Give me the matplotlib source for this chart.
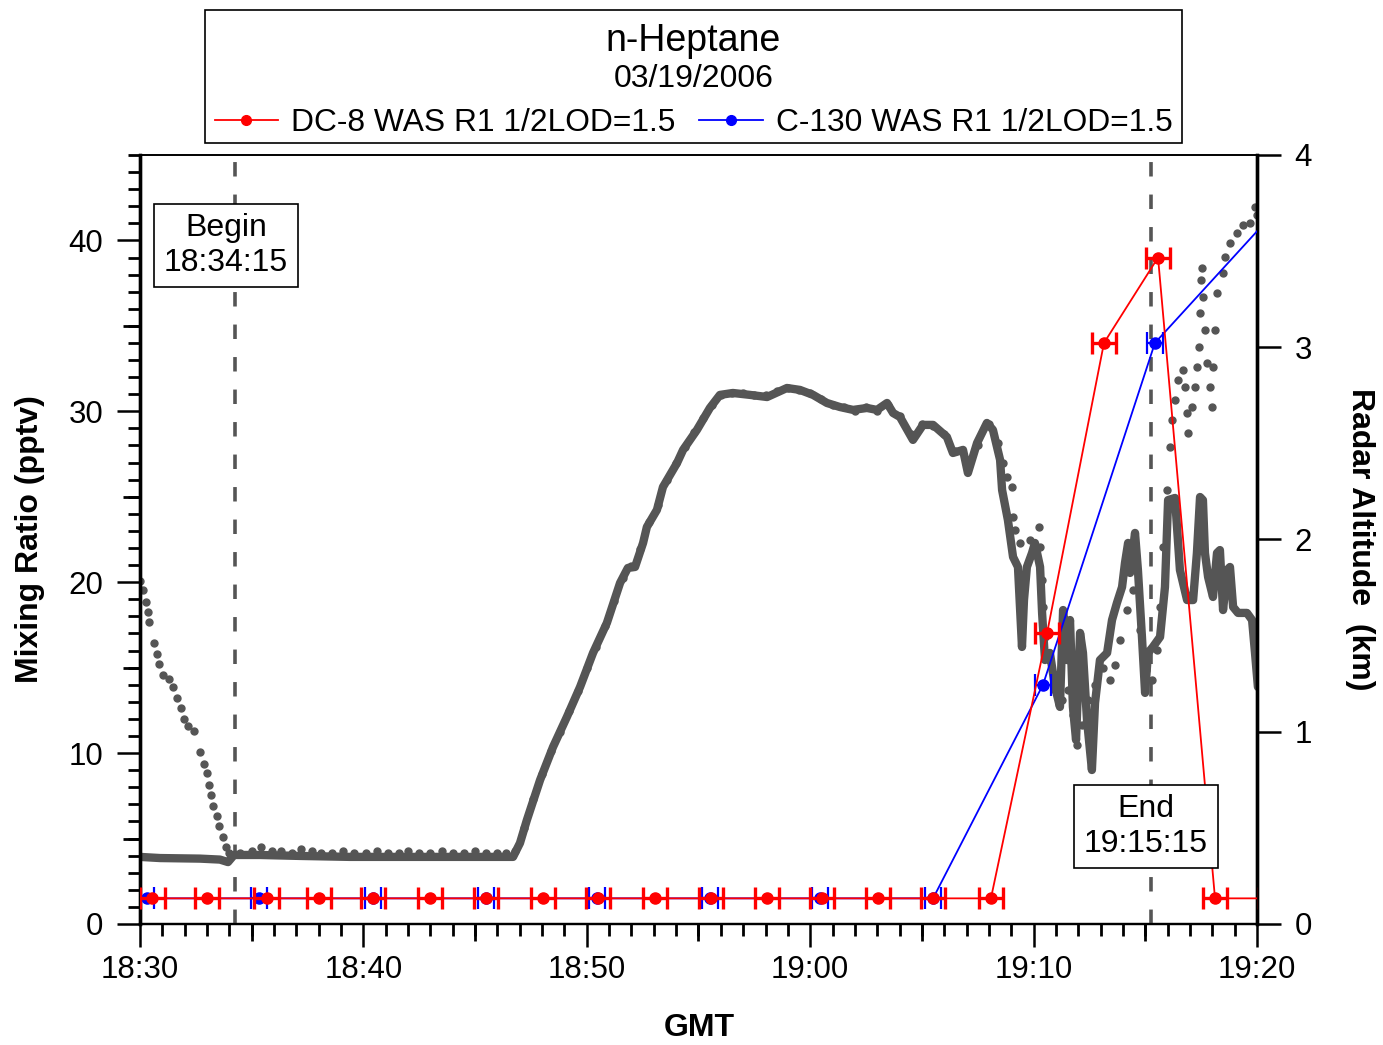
import matplotlib
matplotlib.use('Agg')
import matplotlib.pyplot as plt
from matplotlib.lines import Line2D
from matplotlib.patches import Rectangle
from matplotlib.ticker import MultipleLocator, FixedLocator

plt.rcParams['font.family'] = ['Liberation Sans', 'DejaVu Sans']

# ---------------- data (time in minutes after 18:30 GMT) ----------------
dc8_t = [0.55, 3.01, 5.67, 8.01, 10.43, 12.98, 15.49, 18.04, 20.50, 23.05,
         25.56, 28.07, 30.53, 33.03, 35.50, 38.09, 40.60, 43.15, 45.57, 48.12, 50.65]
dc8_v = [1.5, 1.5, 1.5, 1.5, 1.5, 1.5, 1.5, 1.5, 1.5, 1.5,
         1.5, 1.5, 1.5, 1.5, 1.5, 1.5, 17.0, 34.0, 39.0, 1.5, 1.5]
dc8_terr = [0.55] * len(dc8_t)

c130_t = [0.30, 5.33, 10.43, 15.49, 20.46, 25.51, 30.44, 35.50, 40.42, 45.43, 50.5]
c130_v = [1.5, 1.5, 1.5, 1.5, 1.5, 1.5, 1.5, 1.5, 14.0, 34.0, 41.25]
c130_terr = [0.35] * len(c130_t)

# radar altitude, aircraft 1 (dense trace)
alt1_t = [0.0, 0.90, 2.69, 3.58, 3.94, 4.21, 5.37, 7.16, 9.40, 11.64, 13.88, 15.22,
          16.70, 17.01, 17.32, 17.91, 18.49, 19.11, 19.70, 20.28, 20.90, 21.49, 21.84,
          22.16, 22.52, 22.69, 23.14, 23.41, 24.04, 24.31, 24.93, 25.51, 25.96, 26.54,
          27.31, 28.07, 28.96, 29.54, 30.13, 30.75, 31.33, 31.92, 32.54, 32.99, 33.44,
          33.71, 34.02, 34.60, 35.05, 35.50, 36.12, 36.39, 36.84, 37.06, 37.47, 37.91,
          38.18, 38.50, 38.59, 38.85, 39.08, 39.30, 39.48, 39.57, 39.70, 39.93, 40.06,
          40.29, 40.38, 40.51, 40.73, 40.96, 41.18, 41.32, 41.50, 41.63, 41.76, 41.90,
          42.08, 42.21, 42.39, 42.61, 42.75, 42.97, 43.29, 43.51, 43.73, 43.96, 44.09,
          44.23, 44.32, 44.54, 44.67, 44.85, 44.99, 45.12, 45.34, 45.66, 45.88, 46.02,
          46.33, 46.55, 46.87, 47.14, 47.31, 47.45, 47.58, 47.67, 47.81, 48.03, 48.21,
          48.34, 48.48, 48.66, 48.79, 48.93, 49.15, 49.55, 49.78, 49.91, 50.04]
alt1_km = [0.349, 0.343, 0.340, 0.335, 0.322, 0.359, 0.359, 0.354, 0.349, 0.349, 0.349, 0.349,
           0.349, 0.421, 0.541, 0.749, 0.921, 1.077, 1.233, 1.410, 1.566, 1.774, 1.852,
           1.857, 1.982, 2.065, 2.154, 2.273, 2.398, 2.466, 2.570, 2.684, 2.752, 2.762,
           2.752, 2.741, 2.788, 2.778, 2.752, 2.710, 2.689, 2.674, 2.684, 2.674, 2.710,
           2.658, 2.637, 2.518, 2.596, 2.596, 2.533, 2.450, 2.466, 2.346, 2.502, 2.606,
           2.570, 2.414, 2.257, 2.101, 1.909, 1.857, 1.441, 1.685, 1.857, 1.930, 1.982,
           1.857, 1.618, 1.373, 1.410, 1.233, 1.129, 1.633, 1.373, 1.581, 1.129, 0.957,
           1.514, 1.410, 1.061, 0.801, 1.150, 1.373, 1.410, 1.581, 1.670, 1.753, 1.878,
           1.982, 1.826, 2.034, 1.841, 1.493, 1.202, 1.410, 1.441, 1.493, 1.753, 2.205,
           2.216, 1.841, 1.685, 1.685, 1.930, 2.221, 2.205, 1.930, 1.805, 1.701, 1.930,
           1.945, 1.633, 1.841, 1.857, 1.649, 1.618, 1.618, 1.581, 1.410, 1.233]

# radar altitude, aircraft 2 (sparse samples)
alt2_t = [0.00, 0.15, 0.26, 0.34, 0.40, 0.64, 0.77, 0.86, 1.04, 1.30, 1.46, 1.64, 1.82,
          1.98, 2.16, 2.42, 2.69, 2.86, 3.01, 3.10, 3.19, 3.27, 3.46, 3.55, 3.73, 3.84,
          4.0, 4.5, 5.0, 5.4, 5.9, 6.3, 6.8, 7.2, 7.7, 8.1, 8.6, 9.1, 9.6, 10.1, 10.6,
          11.1, 11.6, 12.0, 12.5, 13.0, 13.5, 14.0, 14.5, 15.0, 15.5, 16.0, 16.4,
          16.8, 17.2, 17.6, 18.0, 18.4, 18.8, 19.2, 19.6, 20.0, 20.4, 20.8, 21.2, 21.6,
          22.0, 22.4, 22.8, 23.2, 23.6, 24.0, 24.4, 24.8, 25.2, 25.6, 26.0, 26.5, 27.0,
          27.5, 28.0, 28.5, 29.0, 29.5, 30.0, 30.5, 31.0, 31.5, 32.0, 32.5, 33.0, 33.5,
          34.0, 34.5, 35.0, 35.5, 36.0, 36.5, 37.0, 37.5, 38.0, 38.4,
          38.63, 38.81, 39.03, 39.08, 39.17, 39.39, 39.84, 40.24, 40.29, 40.38, 40.42,
          40.51, 40.73, 40.96, 41.27, 41.54, 41.76, 41.94, 42.17, 42.44, 42.75, 43.11,
          43.42, 43.64, 43.87, 44.18, 44.45, 44.76, 45.03, 45.30, 45.52, 45.66, 45.79,
          45.97, 46.11, 46.20, 46.33, 46.46, 46.69, 46.78, 46.87, 46.91, 47.09, 47.23,
          47.31, 47.42, 47.47, 47.50, 47.54, 47.60, 47.67, 47.76, 47.90, 47.99, 48.05,
          48.12, 48.21, 48.48, 48.57, 48.79, 49.10, 49.37, 49.69, 49.91, 50.0]
alt2_km = [1.784, 1.737, 1.675, 1.623, 1.571, 1.462, 1.404, 1.352, 1.295, 1.274, 1.233,
           1.176, 1.124, 1.066, 1.030, 1.004, 0.895, 0.832, 0.785, 0.723, 0.671, 0.614,
           0.562, 0.510, 0.453, 0.401,
           0.37, 0.37, 0.38, 0.40, 0.38, 0.38, 0.37, 0.39, 0.38, 0.37, 0.37, 0.38, 0.37,
           0.37, 0.38, 0.37, 0.37, 0.38, 0.37, 0.37, 0.38, 0.37, 0.37, 0.38, 0.37, 0.37,
           0.37,
           0.38, 0.50, 0.65, 0.78, 0.90, 1.00, 1.11, 1.21, 1.33, 1.44, 1.55, 1.68, 1.80,
           1.86, 1.95, 2.09, 2.18, 2.31, 2.40, 2.48, 2.56, 2.63, 2.70, 2.75, 2.76, 2.76,
           2.75, 2.75, 2.77, 2.79, 2.78, 2.76, 2.73, 2.70, 2.69, 2.67, 2.69, 2.67, 2.70,
           2.64, 2.55, 2.60, 2.59, 2.55, 2.46, 2.40, 2.49, 2.60, 2.50,
           2.398, 2.325, 2.273, 2.117, 2.049, 1.982, 1.997, 2.065, 1.961, 1.789, 1.649,
           1.493, 1.373, 1.217, 1.165, 1.217, 1.087, 0.931, 1.035, 1.165, 1.243, 1.332,
           1.269, 1.347, 1.477, 1.633, 1.737, 1.529, 1.321, 1.269, 1.425, 1.649, 1.961,
           2.257, 2.481, 2.622, 2.726, 2.830, 2.882, 2.793, 2.658, 2.554, 2.689, 2.793,
           2.897, 3.001, 3.178, 3.350, 3.412, 3.261, 3.090, 2.918, 2.793, 2.689, 2.897,
           3.090, 3.282, 3.386, 3.469, 3.542, 3.594, 3.636, 3.646, 3.730, 3.688]

x_ticks = [0, 10, 20, 30, 40, 50]
x_labels = ["18:30", "18:40", "18:50", "19:00", "19:10", "19:20"]
y_ticks = [0, 10, 20, 30, 40]
y2_ticks = [0, 1, 2, 3, 4]
begin_t, end_t = 4.25, 45.25

GRAY = '#555555'

# ---------------- figure ----------------
fig = plt.figure(figsize=(13.83, 10.45), dpi=100)
ax = fig.add_axes([0.1012, 0.1158, 0.8077, 0.7359])
ax2 = ax.twinx()
ax.set_zorder(ax2.get_zorder() + 1)
ax.patch.set_visible(False)

# gray altitude traces (right axis)
ax2.plot(alt1_t, alt1_km, color=GRAY, lw=6, solid_joinstyle='round',
         solid_capstyle='round')
ax2.plot(alt2_t, alt2_km, ls='none', marker='o', ms=5, color=GRAY, mec=GRAY)

# begin / end markers
for tt in (begin_t, end_t):
    ax.axvline(tt, color=GRAY, lw=2.6, dashes=(4.0, 5.0), zorder=1)

# C-130 and DC-8 samples
ax.errorbar(c130_t, c130_v, xerr=c130_terr, fmt='-o', color='blue', lw=1.3,
            ms=8, capsize=8, elinewidth=1.6, capthick=1.6, zorder=3)
ax.errorbar(dc8_t, dc8_v, xerr=dc8_terr, fmt='-o', color='red', lw=1.3,
            ms=8, capsize=8, elinewidth=2.4, capthick=2.4, zorder=4)

box = dict(boxstyle='square,pad=0.3', fc='white', ec='black', lw=1.2)
ax.text(3.85, 39.7, "Begin\n18:34:15", ha='center', va='center', fontsize=23,
        bbox=box, zorder=10)
ax.text(45.03, 5.7, "End\n19:15:15", ha='center', va='center', fontsize=23,
        bbox=box, zorder=10)

# axes limits & ticks
ax.set_xlim(0, 50)
ax.set_ylim(0, 45)
ax2.set_ylim(0, 4)

ax.xaxis.set_major_locator(FixedLocator(x_ticks))
ax.set_xticklabels(x_labels)
ax.xaxis.set_minor_locator(MultipleLocator(1))
ax.yaxis.set_major_locator(FixedLocator(y_ticks))
ax.yaxis.set_minor_locator(MultipleLocator(1))
ax2.yaxis.set_major_locator(FixedLocator(y2_ticks))

ax.tick_params(axis='both', which='major', direction='out', length=16.5, width=1.8,
               labelsize=22.5)
ax.tick_params(axis='y', which='major', pad=10)
ax.tick_params(axis='x', which='major', pad=6)
ax.tick_params(axis='both', which='minor', direction='out', length=8.6, width=2.0)
ax2.tick_params(axis='y', which='major', direction='out', length=17, width=1.8,
                labelsize=22.5, pad=10)

secx = ax.secondary_xaxis('bottom')
secx.set_xticks([5, 15, 25, 35, 45])
secx.set_xticklabels([])
secx.tick_params(direction='out', length=12.2, width=2.0)
secx.spines['bottom'].set_visible(False)
secy = ax.secondary_yaxis('left')
secy.set_yticks([5, 15, 25, 35])
secy.set_yticklabels([])
secy.tick_params(direction='out', length=12.2, width=2.0)
secy.spines['left'].set_visible(False)

for a in (ax, ax2):
    a.spines['left'].set_linewidth(2.4)
    a.spines['right'].set_linewidth(2.4)
    a.spines['top'].set_linewidth(1.2)
    a.spines['bottom'].set_linewidth(1.6)

ax.set_xlabel("GMT", fontsize=23, fontweight='bold', va='center')
ax.xaxis.set_label_coords(0.5004, -0.1352)
ax.set_ylabel("Mixing Ratio (pptv)", fontsize=23, fontweight='bold',
              va='center', ha='center', rotation=90, rotation_mode='default')
ax.yaxis.set_label_coords(-0.0985, 0.5)
ax2.set_ylabel("Radar Altitude  (km)", fontsize=23, fontweight='bold',
               va='center', ha='center', rotation=270, rotation_mode='default')
ax2.yaxis.set_label_coords(1.0922, 0.5)

# title / legend box
fig.add_artist(Rectangle((0.1482, 0.8632), 0.7065, 0.1272, transform=fig.transFigure,
                         fill=False, ec='black', lw=1.2))
fig.text(0.5014, 0.9612, "n-Heptane", ha='center', va='center', fontsize=27)
fig.text(0.5014, 0.9245, "03/19/2006", ha='center', va='center', fontsize=23)
h1 = Line2D([], [], color='red', marker='o', ms=7, lw=1.3)
h2 = Line2D([], [], color='blue', marker='o', ms=7, lw=1.3)
fig.legend([h1, h2], ["DC-8 WAS R1 1/2LOD=1.5", "C-130 WAS R1 1/2LOD=1.5"],
           loc='center', bbox_to_anchor=(0.5014, 0.8825), ncol=2, frameon=False,
           fontsize=22.9, handlelength=2.0, handletextpad=0.4, columnspacing=0.75,
           borderpad=0, borderaxespad=0)

fig.savefig('out.png', dpi=100)
